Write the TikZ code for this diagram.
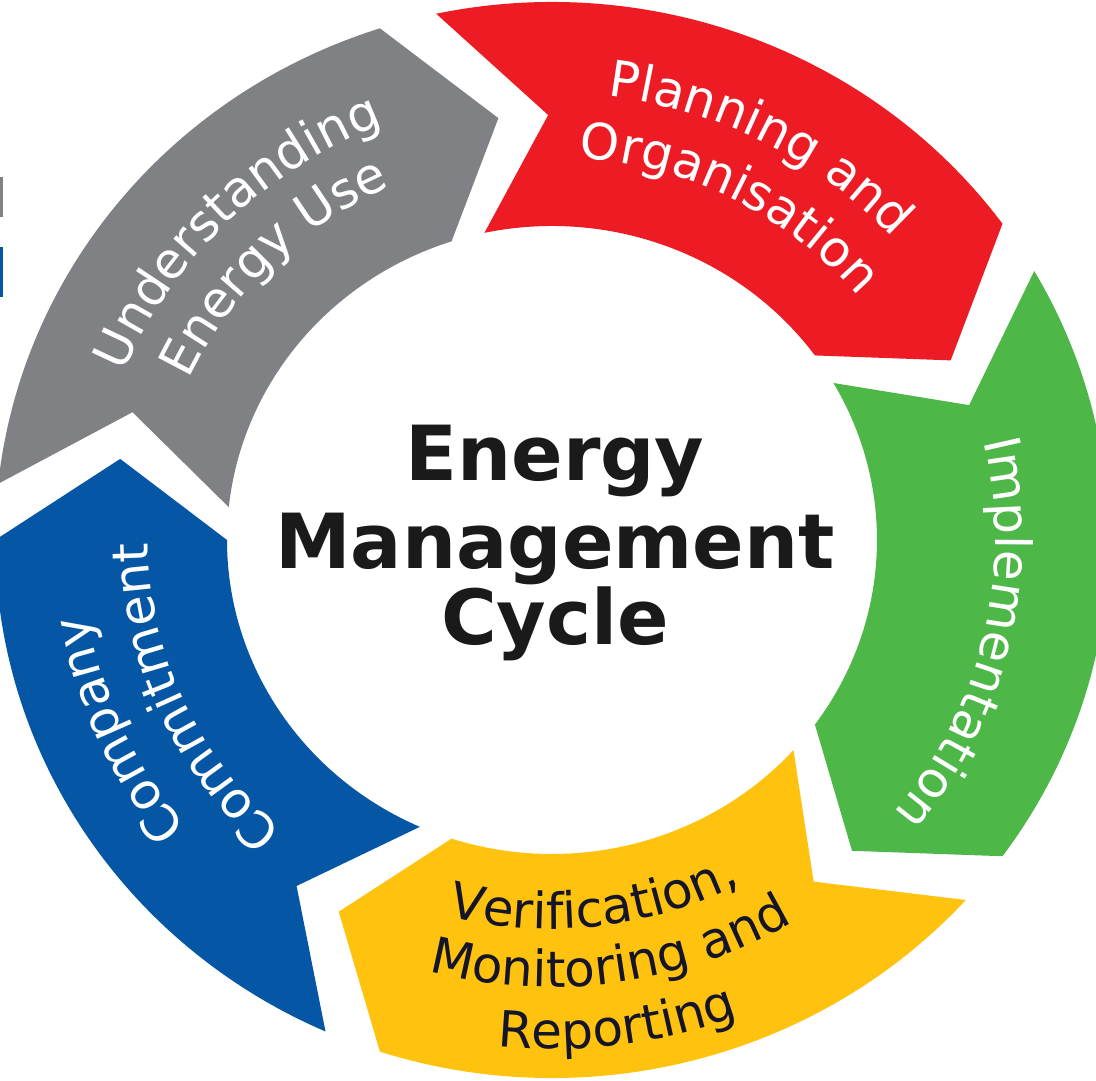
\documentclass[tikz,border=0pt]{standalone}
\usepackage{fontspec}
\setmainfont{DejaVu Sans}
\usetikzlibrary{decorations.text}

\definecolor{usegray}{HTML}{808185}
\definecolor{planred}{HTML}{ED1C24}
\definecolor{implgreen}{HTML}{4DB748}
\definecolor{verifyellow}{HTML}{FFC20E}
\definecolor{commitblue}{HTML}{0557A6}
\definecolor{titleblack}{HTML}{1A1A1A}
\definecolor{verifytext}{HTML}{15152A}

\newcommand{\Ro}{538}
\newcommand{\Ri}{314}
\newcommand{\Rm}{425}
\newcommand{\seglabel}{\fontsize{25}{30}\selectfont}

% one band of the ring, #2 = angle of its notched tail
\newcommand{\ringarrow}[2]{%
  \fill[#1] (#2:\Ro) arc[start angle=#2, end angle=#2-66, radius=\Ro]
    -- ({#2-77}:\Rm) -- ({#2-66}:\Ri)
    arc[start angle=#2-66, end angle=#2, radius=\Ri]
    -- ({#2-11.5}:\Rm) -- cycle;}

% text round the centre: angle, baseline radius, colour, text
\newcommand{\cwtext}[4]{%
  \path[decorate, decoration={text along path, text align=center,
      text={|\seglabel\color{#3}|#4}}]
    ({#1+45}:#2) arc[start angle=#1+45, end angle=#1-45, radius=#2];}
\newcommand{\ccwtext}[4]{%
  \path[decorate, decoration={text along path, text align=center,
      text={|\seglabel\color{#3}|#4}}]
    ({#1-45}:#2) arc[start angle=#1-45, end angle=#1+45, radius=#2];}

\tikzset{title/.style={font=\bfseries\fontsize{38}{44}\selectfont, text=titleblack, anchor=base, inner sep=0pt}}

\begin{document}
\begin{tikzpicture}[x=0.5pt, y=0.5pt]
  \path[use as bounding box, fill=white] (-552,-540) rectangle (544,540);
  \fill[usegray] (-552,323) rectangle (-549,363);
  \fill[commitblue] (-552,243) rectangle (-549,293);

  \begin{scope}[x=0.5175pt]
    \ringarrow{usegray}{174}
    \ringarrow{planred}{102}
    \ringarrow{implgreen}{30}
    \ringarrow{verifyellow}{-42}
    \ringarrow{commitblue}{-114}

    \cwtext{135}{446}{white}{Understanding}
    \cwtext{135}{386}{white}{Energy Use}
    \cwtext{62.5}{447}{white}{Planning and}
    \cwtext{62.5}{383}{white}{Organisation}
    \cwtext{-13}{428}{white}{Implementation}
    \ccwtext{-83.5}{389}{verifytext}{Verification,}
    \ccwtext{-82}{447}{verifytext}{Monitoring and}
    \ccwtext{-82.5}{509}{verifytext}{Reporting}
    \cwtext{-156}{455}{white}{Company}
    \cwtext{-156}{390}{white}{Commitment}
  \end{scope}

  \node[title] (energy) at (3,59) {Energy};
  \node[title] (management) at (3,-29) {Management};
  \node[title] (cycle) at (3,-105) {Cycle};
\end{tikzpicture}
\end{document}
